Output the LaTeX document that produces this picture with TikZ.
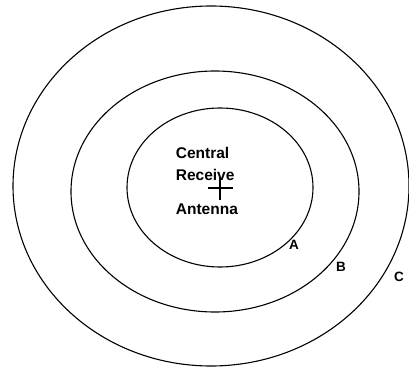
\documentclass[tikz,border=0pt]{standalone}
\usepackage{fontspec}
\setmainfont{Liberation Sans}

\begin{document}
\begin{tikzpicture}[x=1pt,y=1pt,line width=1.1pt]
    \useasboundingbox (0,0) rectangle (409,370);

    \foreach \cx/\cy/\rx/\ry in {220/182.5/93/79.5, 215/178.5/144/120.5, 211/184/198/180}{
        \draw (\cx,\cy) ellipse [x radius=\rx, y radius=\ry];
    }

    \draw (207.5,182) -- (232.5,182);
    \draw (220,192) -- (220,170);

    \node[anchor=west,font=\bfseries\fontsize{15.5}{18}\selectfont] (central) at (172,217) {Central};
    \node[anchor=west,font=\bfseries\fontsize{15.5}{18}\selectfont] (receive) at (172,195) {Receive};
    \node[anchor=west,font=\bfseries\fontsize{15.5}{18}\selectfont] (antenna) at (172,161) {Antenna};

    \node[font=\bfseries\fontsize{13.5}{16}\selectfont] (labA) at (294,125) {A};
    \node[font=\bfseries\fontsize{13.5}{16}\selectfont] (labB) at (341,103) {B};
    \node[font=\bfseries\fontsize{13.5}{16}\selectfont] (labC) at (399,93) {C};
\end{tikzpicture}
\end{document}
